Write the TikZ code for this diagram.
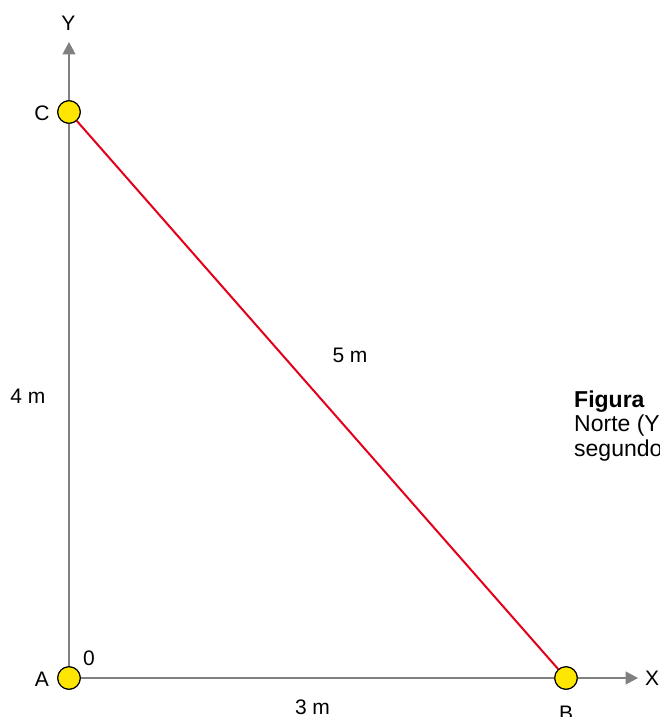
\documentclass[tikz,border=0pt]{standalone}
\usepackage{fontspec}
\setmainfont{Liberation Sans}
\usetikzlibrary{arrows.meta}
\definecolor{axisgray}{RGB}{128,128,128}
\definecolor{linered}{RGB}{226,0,26}
\definecolor{ptyellow}{RGB}{255,230,0}
\tikzset{
  axis/.style={draw=axisgray, line width=1.4pt, -{Triangle[length=12.5pt,width=13pt]}},
  side/.style={draw=linered, line width=2pt},
  pt/.style={circle, draw=black, line width=1.1pt, fill=ptyellow, minimum size=22.5pt, inner sep=0pt},
  lbl/.style={font=\fontsize{21}{24}\selectfont, inner sep=0pt, anchor=base},
  captxt/.style={font=\fontsize{23}{26}\selectfont, inner sep=0pt, anchor=base west}
}
\begin{document}
\begin{tikzpicture}[x=1pt,y=-1pt]
\useasboundingbox (0,0) rectangle (659,717);
\clip (0,0) rectangle (659,717);
\coordinate (ytip) at (69,42);
\coordinate (xtip) at (638,678);
\node[pt] (A) at (69,678) {};
\node[pt] (B) at (566,678) {};
\node[pt] (C) at (69,112) {};
\draw[axis] (A.north) -- (ytip);
\draw[axis] (A.east) -- (xtip);
\draw[side] (C) -- (B);
\node[pt] at (C) {};
\node[pt] at (B) {};
\node[pt] at (A) {};
\node[lbl] (ylab) at (68.5,31) {Y};
\node[lbl] (xlab) at (652,685) {X};
\node[lbl] (clab) at (42,120) {C};
\node[lbl] (alab) at (42,686) {A};
\node[lbl] (zlab) at (89,665) {0};
\node[lbl] (blab) at (566,720) {B};
\node[lbl] (l4) at (28,403) {4 m};
\node[lbl] (l3) at (312.5,714) {3 m};
\node[lbl] (l5) at (350,362) {5 m};
\node[captxt] (f1) at (574,407) {\bfseries Figura};
\node[captxt] (f2) at (574,431) {Norte (Y};
\node[captxt] (f3) at (574,456) {segundo};
\end{tikzpicture}
\end{document}
